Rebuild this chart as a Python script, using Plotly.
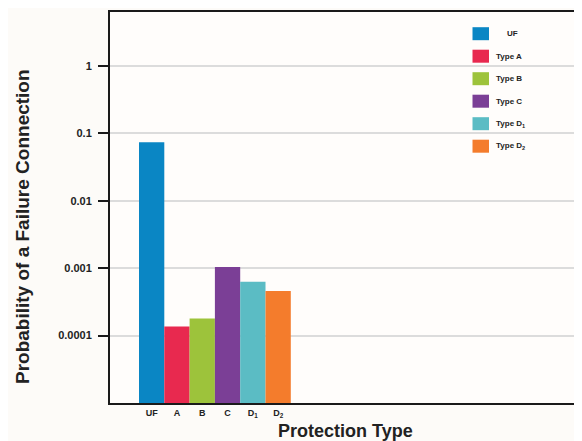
import plotly.graph_objects as go

categories = ["UF", "A", "B", "C", "D<sub>1</sub>", "D<sub>2</sub>"]
legend_names = ["UF", "Type A", "Type B", "Type C", "Type D<sub>1</sub>", "Type D<sub>2</sub>"]
probabilities = [0.074, 0.000136, 0.000179, 0.00104, 0.00063, 0.00046]
colors = ["#0a86c4", "#e8294f", "#9dc33b", "#7b3f96", "#5bbcc4", "#f47c2c"]
y_tick_vals = [0.0001, 0.001, 0.01, 0.1, 1]
y_tick_text = ["0.0001", "0.001", "0.01", "0.1", "1"]

# The page body adds an 8px offset, so the figure is laid out 8px smaller/shifted.
OFF = 8
W, H = 582 - OFF, 441 - OFF
ML, MR, MT, MB = 110 - OFF, 2, 12 - OFF, 38
PW = W - ML - MR
PH = H - MT - MB


def px_x(x_ref):
    return (x_ref - OFF - ML) / PW


def px_y(y_ref):
    return (H - MB - (y_ref - OFF)) / PH


fig = go.Figure()
for i, (name, val, col) in enumerate(zip(legend_names, probabilities, colors)):
    fig.add_trace(go.Bar(
        x=[i], y=[val], name=name, width=1.0,
        marker=dict(color=col, line=dict(width=0)),
        showlegend=False,
    ))

shapes = []
annotations = []
for i, (name, col) in enumerate(zip(legend_names, colors)):
    yc = 33.7 + 22.5 * i
    shapes.append(dict(
        type="rect", xref="paper", yref="paper",
        x0=px_x(472.5), x1=px_x(489), y0=px_y(yc + 6.5), y1=px_y(yc - 6.5),
        fillcolor=col, line=dict(width=0), layer="above",
    ))
    annotations.append(dict(
        xref="paper", yref="paper", x=px_x(505 if i == 0 else 493.5), y=px_y(yc),
        xanchor="left", yanchor="middle", showarrow=False,
        text=f"<b>{name}</b>", font=dict(size=8, color="#222"),
    ))

annotations.append(dict(
    xref="paper", yref="paper", x=px_x(22), y=px_y(227),
    xanchor="center", yanchor="middle", showarrow=False, textangle=-90,
    text="<b>Probability of a Failure Connection</b>", font=dict(size=19, color="#222"),
))
annotations.append(dict(
    xref="paper", yref="paper", x=px_x(345), y=px_y(431),
    xanchor="center", yanchor="middle", showarrow=False,
    text="<b>Protection Type</b>", font=dict(size=18, color="#222"),
))

fig.update_layout(
    width=W, height=H,
    margin=dict(l=ML, r=MR, t=MT, b=MB, autoexpand=False),
    paper_bgcolor="#fdfbf8",
    plot_bgcolor="#fffdfb",
    barmode="overlay",
    font=dict(family="Liberation Sans, Arial, sans-serif", color="#222"),
    showlegend=False,
    shapes=shapes,
    annotations=annotations,
    xaxis=dict(
        range=[-1.646, 16.93],
        tickmode="array", tickvals=list(range(len(categories))), ticktext=categories,
        tickfont=dict(size=9, color="#222", weight="bold"),
        ticks="", showgrid=False, zeroline=False,
        showline=True, linecolor="#1a1a1a", linewidth=2, mirror=True,
    ),
    yaxis=dict(
        type="log", range=[-5, 0.8],
        tickmode="array", tickvals=y_tick_vals, ticktext=y_tick_text,
        tickfont=dict(size=11, color="#222", weight="bold"),
        ticks="outside", ticklen=10, tickwidth=2, tickcolor="#1a1a1a",
        ticklabelstandoff=4,
        showgrid=True, gridcolor="#dcdcdc", gridwidth=1.5,
        showline=True, linecolor="#1a1a1a", linewidth=2, mirror=True,
        zeroline=False,
    ),
)

fig.write_html("out.html")
